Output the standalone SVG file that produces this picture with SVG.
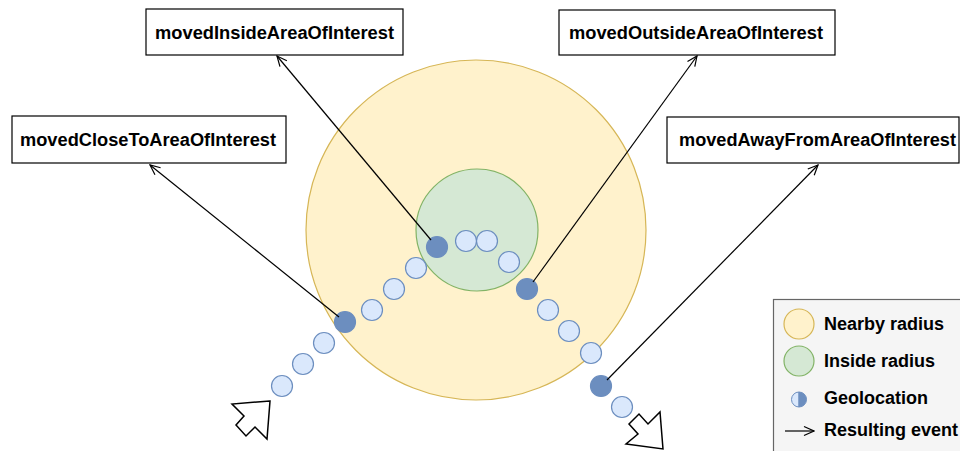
<svg xmlns="http://www.w3.org/2000/svg" width="960" height="451" viewBox="0 0 960 451">
<defs>
<marker id="open" viewBox="0 0 12 12" refX="11" refY="6" markerWidth="12" markerHeight="12" markerUnits="userSpaceOnUse" orient="auto">
<polyline points="1,1.5 11,6 1,10.5" fill="none" stroke="#000" stroke-width="1.2"/>
</marker>
</defs>
<style>
.box{fill:#fff;stroke:#000;stroke-width:1.2}
.lbl{font-family:"Liberation Sans",Arial,sans-serif;font-weight:bold;font-size:17.5px;fill:#000}
.leg{font-family:"Liberation Sans",Arial,sans-serif;font-weight:bold;font-size:18px;fill:#000}
.pt{fill:#dae8fc;stroke:#6c8ebf;stroke-width:1.2}
.ev{fill:#6c8ebf;stroke:#6c8ebf;stroke-width:1.2}
.conn{stroke:#000;stroke-width:1.2;fill:none}
.big{fill:#fff;stroke:#000;stroke-width:1.5;stroke-linejoin:miter}
</style>
<rect width="960" height="451" fill="#fff"/>
<g id="nearby-radius"><circle cx="476" cy="230" r="170" fill="#fff2cc" stroke="#d6b656" stroke-width="1.2"/></g>
<g id="inside-radius"><circle cx="477" cy="230" r="61" fill="#d5e8d4" stroke="#82b366" stroke-width="1.2"/></g>
<g id="path-points">
<circle class="pt" cx="282" cy="386" r="10.5"/>
<circle class="pt" cx="303" cy="364" r="10.5"/>
<circle class="pt" cx="324" cy="343" r="10.5"/>
<circle class="pt" cx="372" cy="310" r="10.5"/>
<circle class="pt" cx="394" cy="289" r="10.5"/>
<circle class="pt" cx="416" cy="268" r="10.5"/>
<circle class="pt" cx="466" cy="241" r="10.5"/>
<circle class="pt" cx="487" cy="241" r="10.5"/>
<circle class="pt" cx="509" cy="262" r="10.5"/>
<circle class="pt" cx="548" cy="310" r="10.5"/>
<circle class="pt" cx="569" cy="331" r="10.5"/>
<circle class="pt" cx="591" cy="353" r="10.5"/>
<circle class="pt" cx="622" cy="407" r="10.5"/>
</g>
<g id="event-points">
<circle class="ev" cx="345" cy="322" r="10.5"/>
<circle class="ev" cx="437" cy="247" r="10.5"/>
<circle class="ev" cx="527" cy="289" r="10.5"/>
<circle class="ev" cx="601" cy="386" r="10.5"/>
</g>
<g id="start-arrow"><polygon class="big" points="270,401 232,404 244,416 236,425 246,436 255,427 267,439"/></g>
<g id="end-arrow"><polygon class="big" points="663,449 660,412 648,424 639,414 629,424 638,434 626,444"/></g>
<g id="connectors">
<line class="conn" x1="339" y1="317" x2="150" y2="165" marker-end="url(#open)"/>
<line class="conn" x1="431" y1="240" x2="277" y2="56" marker-end="url(#open)"/>
<line class="conn" x1="533" y1="282" x2="697" y2="56" marker-end="url(#open)"/>
<line class="conn" x1="607" y1="380" x2="818" y2="165" marker-end="url(#open)"/>
</g>
<g id="movedCloseToAreaOfInterest"><rect class="box" x="12" y="116" width="274" height="47"/><text class="lbl" x="20" y="146" textLength="256" lengthAdjust="spacingAndGlyphs">movedCloseToAreaOfInterest</text></g>
<g id="movedInsideAreaOfInterest"><rect class="box" x="146" y="9" width="257" height="46"/><text class="lbl" x="155" y="39" textLength="239" lengthAdjust="spacingAndGlyphs">movedInsideAreaOfInterest</text></g>
<g id="movedOutsideAreaOfInterest"><rect class="box" x="559" y="10" width="276" height="45"/><text class="lbl" x="569" y="39" textLength="254" lengthAdjust="spacingAndGlyphs">movedOutsideAreaOfInterest</text></g>
<g id="movedAwayFromAreaOfInterest"><rect class="box" x="667" y="117" width="292" height="46"/><text class="lbl" x="679" y="146" textLength="277" lengthAdjust="spacingAndGlyphs">movedAwayFromAreaOfInterest</text></g>
<g id="legend">
<rect x="773.5" y="299.5" width="200" height="160" fill="#f5f5f5" stroke="#666" stroke-width="1.2"/>
<circle cx="799" cy="324" r="15" fill="#fff2cc" stroke="#d6b656" stroke-width="1.2"/>
<text class="leg" x="824" y="330">Nearby radius</text>
<circle cx="799" cy="361" r="15" fill="#d5e8d4" stroke="#82b366" stroke-width="1.2"/>
<text class="leg" x="824" y="367">Inside radius</text>
<path d="M799,392 A7.5,7.5 0 0 0 799,407 Z" fill="#dae8fc" stroke="#6c8ebf" stroke-width="1"/>
<path d="M799,392 A7.5,7.5 0 0 1 799,407 Z" fill="#6c8ebf" stroke="#6c8ebf" stroke-width="1"/>
<text class="leg" x="824" y="404">Geolocation</text>
<line class="conn" x1="785" y1="431" x2="814" y2="431" marker-end="url(#open)"/>
<text class="leg" x="824" y="436">Resulting event</text>
</g>
</svg>
